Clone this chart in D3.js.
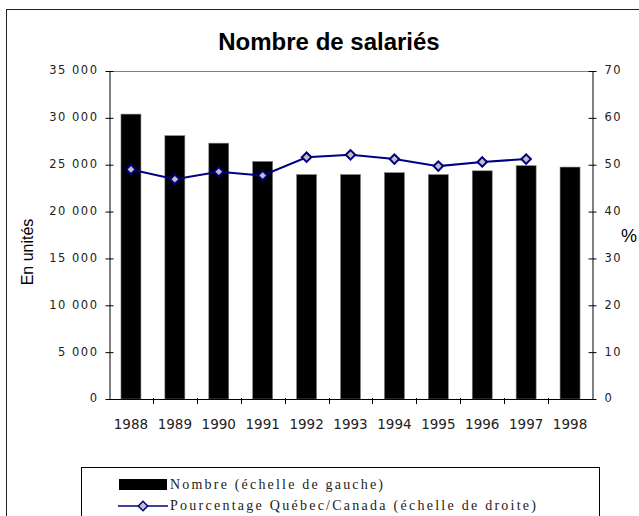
<!DOCTYPE html>
<html><head><meta charset="utf-8">
<script src="https://cdn.jsdelivr.net/npm/d3@7"></script>
<style>body{margin:0;background:#fff}svg{display:block}</style>
</head><body>
<svg id="c" width="639" height="516"></svg>
<script>
const years = ["1988","1989","1990","1991","1992","1993","1994","1995","1996","1997","1998"];
const nombre = [30400,28100,27300,25350,23950,23950,24150,23950,24350,24900,24750];
const pourcentage = [49.0,46.9,48.5,47.7,51.6,52.1,51.2,49.7,50.6,51.2,null];
const leftTicks = [0,5000,10000,15000,20000,25000,30000,35000];
const rightTicks = [0,10,20,30,40,50,60,70];
const title = "Nombre de salariés";
const leftTitle = "En unités";
const rightTitle = "%";
const legendLabels = ["Nombre (échelle de gauche)","Pourcentage Québec/Canada (échelle de droite)"];

const svg = d3.select("#c");
const L = 109, R = 592, T = 71, B = 399;
const x = d3.scaleBand().domain(years).range([L,R]).paddingInner(0.545).paddingOuter(0.2725);
const xb = d3.scaleBand().domain(years).range([L,R]);
const yL = d3.scaleLinear().domain([0,35000]).range([B,T]);
const yR = d3.scaleLinear().domain([0,70]).range([B,T]);
const fmt = d => d3.format(",")(d).replace(/,/g," ");

// outer border
svg.append("rect").attr("x",6.5).attr("y",9.5).attr("width",700).attr("height",600)
  .attr("fill","none").attr("stroke","#222").attr("stroke-width",1);

svg.append("text").attr("x",329).attr("y",50).attr("text-anchor","middle")
  .attr("font-family","Liberation Sans, Arial, sans-serif").attr("font-weight","bold")
  .attr("font-size",24).text(title);

// top border of plot area
svg.append("line").attr("x1",L).attr("x2",R).attr("y1",T+0.5).attr("y2",T+0.5).attr("stroke","#808080");

// bars
svg.append("g").selectAll("rect").data(years).join("rect")
  .attr("x",d=>x(d)).attr("width",x.bandwidth())
  .attr("y",(d,i)=>yL(nombre[i])).attr("height",(d,i)=>B-yL(nombre[i]))
  .attr("fill","#000").attr("stroke","#808080").attr("stroke-width",0.6);

const tickFont = (g,sz,ls) => g.selectAll("text").attr("font-family","DejaVu Sans, sans-serif").attr("font-size",sz).attr("fill","#222").attr("letter-spacing",ls+"px");

// left axis
const gl = svg.append("g").attr("transform",`translate(${L+0.5},0)`)
  .call(d3.axisLeft(yL).tickValues(leftTicks).tickFormat(fmt).tickSizeInner(4).tickSizeOuter(0).tickPadding(7));
gl.selectAll(".tick line").attr("x2",-4).attr("x1",4);
gl.select(".domain").attr("stroke","#000");
tickFont(gl,11.5,1.5);
gl.selectAll("text").attr("dy","0.25em");

// right axis
const gr = svg.append("g").attr("transform",`translate(${R+0.5},0)`)
  .call(d3.axisRight(yR).tickValues(rightTicks).tickSizeInner(4).tickSizeOuter(0).tickPadding(8));
gr.selectAll(".tick line").attr("x1",-4).attr("x2",4);
tickFont(gr,11.5,1.5);
gr.selectAll("text").attr("dy","0.25em");

// bottom axis
const gb = svg.append("g").attr("transform",`translate(0,${B+0.5})`)
  .call(d3.axisBottom(xb).tickSize(0).tickPadding(0));
gb.select(".domain").attr("d",`M${L},0H${R}`);
tickFont(gb,13.5,0);
gb.selectAll("text").attr("dy",null).attr("y",29);
svg.append("g").selectAll("line").data(years.slice(1)).join("line")
  .attr("x1",d=>Math.round(xb(d))+0.5).attr("x2",d=>Math.round(xb(d))+0.5)
  .attr("y1",B-1).attr("y2",B+5).attr("stroke","#000");

// axis titles
svg.append("text").attr("transform",`translate(33,252) rotate(-90)`).attr("text-anchor","middle")
  .attr("font-family","Liberation Sans, Arial, sans-serif").attr("font-size",16).text(leftTitle);
svg.append("text").attr("x",621).attr("y",242)
  .attr("font-family","Liberation Sans, Arial, sans-serif").attr("font-size",18).text(rightTitle);

// line
const pts = years.map((d,i)=>({x:xb(d)+xb.bandwidth()/2,y:pourcentage[i]})).filter(p=>p.y!=null);
svg.append("path").datum(pts).attr("d",d3.line().x(p=>p.x).y(p=>yR(p.y)))
  .attr("fill","none").attr("stroke","#000080").attr("stroke-width",2);
const diamond = d3.symbol().type(d3.symbolSquare).size(45);
svg.append("g").selectAll("path").data(pts).join("path")
  .attr("d",diamond).attr("transform",p=>`translate(${p.x},${yR(p.y)}) rotate(45)`)
  .attr("fill","#c0c0c0").attr("stroke","#000080").attr("stroke-width",2);

// legend
svg.append("rect").attr("x",81.5).attr("y",467.5).attr("width",518).attr("height",80)
  .attr("fill","#fff").attr("stroke","#000");
svg.append("rect").attr("x",119).attr("y",479).attr("width",48).attr("height",11).attr("fill","#000");
svg.append("line").attr("x1",118).attr("x2",168).attr("y1",506).attr("y2",506).attr("stroke","#000080").attr("stroke-width",1.5);
svg.append("path").attr("d",diamond).attr("transform","translate(143,506) rotate(45)")
  .attr("fill","#c0c0c0").attr("stroke","#000080").attr("stroke-width",1.5);
const legW = [213,366];
svg.append("g").selectAll("text").data(legendLabels).join("text")
  .attr("x",170).attr("y",(d,i)=>489+i*21)
  .attr("textLength",(d,i)=>legW[i]).attr("lengthAdjust","spacing")
  .attr("font-family","Liberation Serif, serif").attr("font-size",14).attr("fill","#222").text(d=>d);
</script>
</body></html>
